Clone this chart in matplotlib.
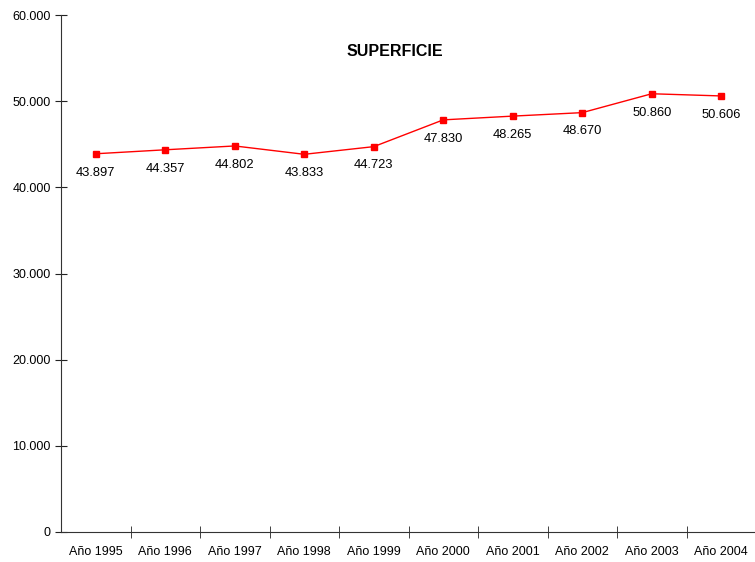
import matplotlib.pyplot as plt
from matplotlib.ticker import FuncFormatter

plt.rcParams['font.family'] = ['Liberation Sans', 'DejaVu Sans']

years = ["Año 1995", "Año 1996", "Año 1997", "Año 1998", "Año 1999",
         "Año 2000", "Año 2001", "Año 2002", "Año 2003", "Año 2004"]
superficie = [43897, 44357, 44802, 43833, 44723, 47830, 48265, 48670, 50860, 50606]
y_ticks = [0, 10000, 20000, 30000, 40000, 50000, 60000]


def miles(v, pos=None):
    return f"{int(v):,}".replace(",", ".")


fig = plt.figure(figsize=(7.55, 5.62), dpi=100)
ax = fig.add_axes([61 / 755, 30 / 562, 695 / 755, 517 / 562])

x = list(range(len(years)))
ax.plot(x, superficie, color="#ff0000", lw=1, marker="s", markersize=5)
for xi, v in zip(x, superficie):
    ax.annotate(miles(v), (xi, v), xytext=(0, -13.5), textcoords="offset points",
                ha="center", va="center", fontsize=9.3)

ax.set_xlim(-0.5, len(years) - 0.5)
ax.set_ylim(0, 60000)
ax.set_yticks(y_ticks)
ax.yaxis.set_major_formatter(FuncFormatter(miles))
ax.set_xticks(x)
ax.set_xticklabels(years, fontsize=9)
ax.tick_params(axis="x", which="major", length=0, pad=10)
ax.set_xticks([i + 0.5 for i in x[:-1]], minor=True)
ax.tick_params(axis="x", which="minor", direction="inout", length=8, color="#222222")
ax.tick_params(axis="y", direction="inout", length=8, labelsize=9, color="#222222")

for s in ["top", "right"]:
    ax.spines[s].set_visible(False)
for s in ["left", "bottom"]:
    ax.spines[s].set_color("#333333")

fig.text(395 / 755, 1 - 52 / 562, "SUPERFICIE", ha="center", va="center",
         fontsize=11.5, fontweight="bold")

fig.savefig("out.png", dpi=100)
